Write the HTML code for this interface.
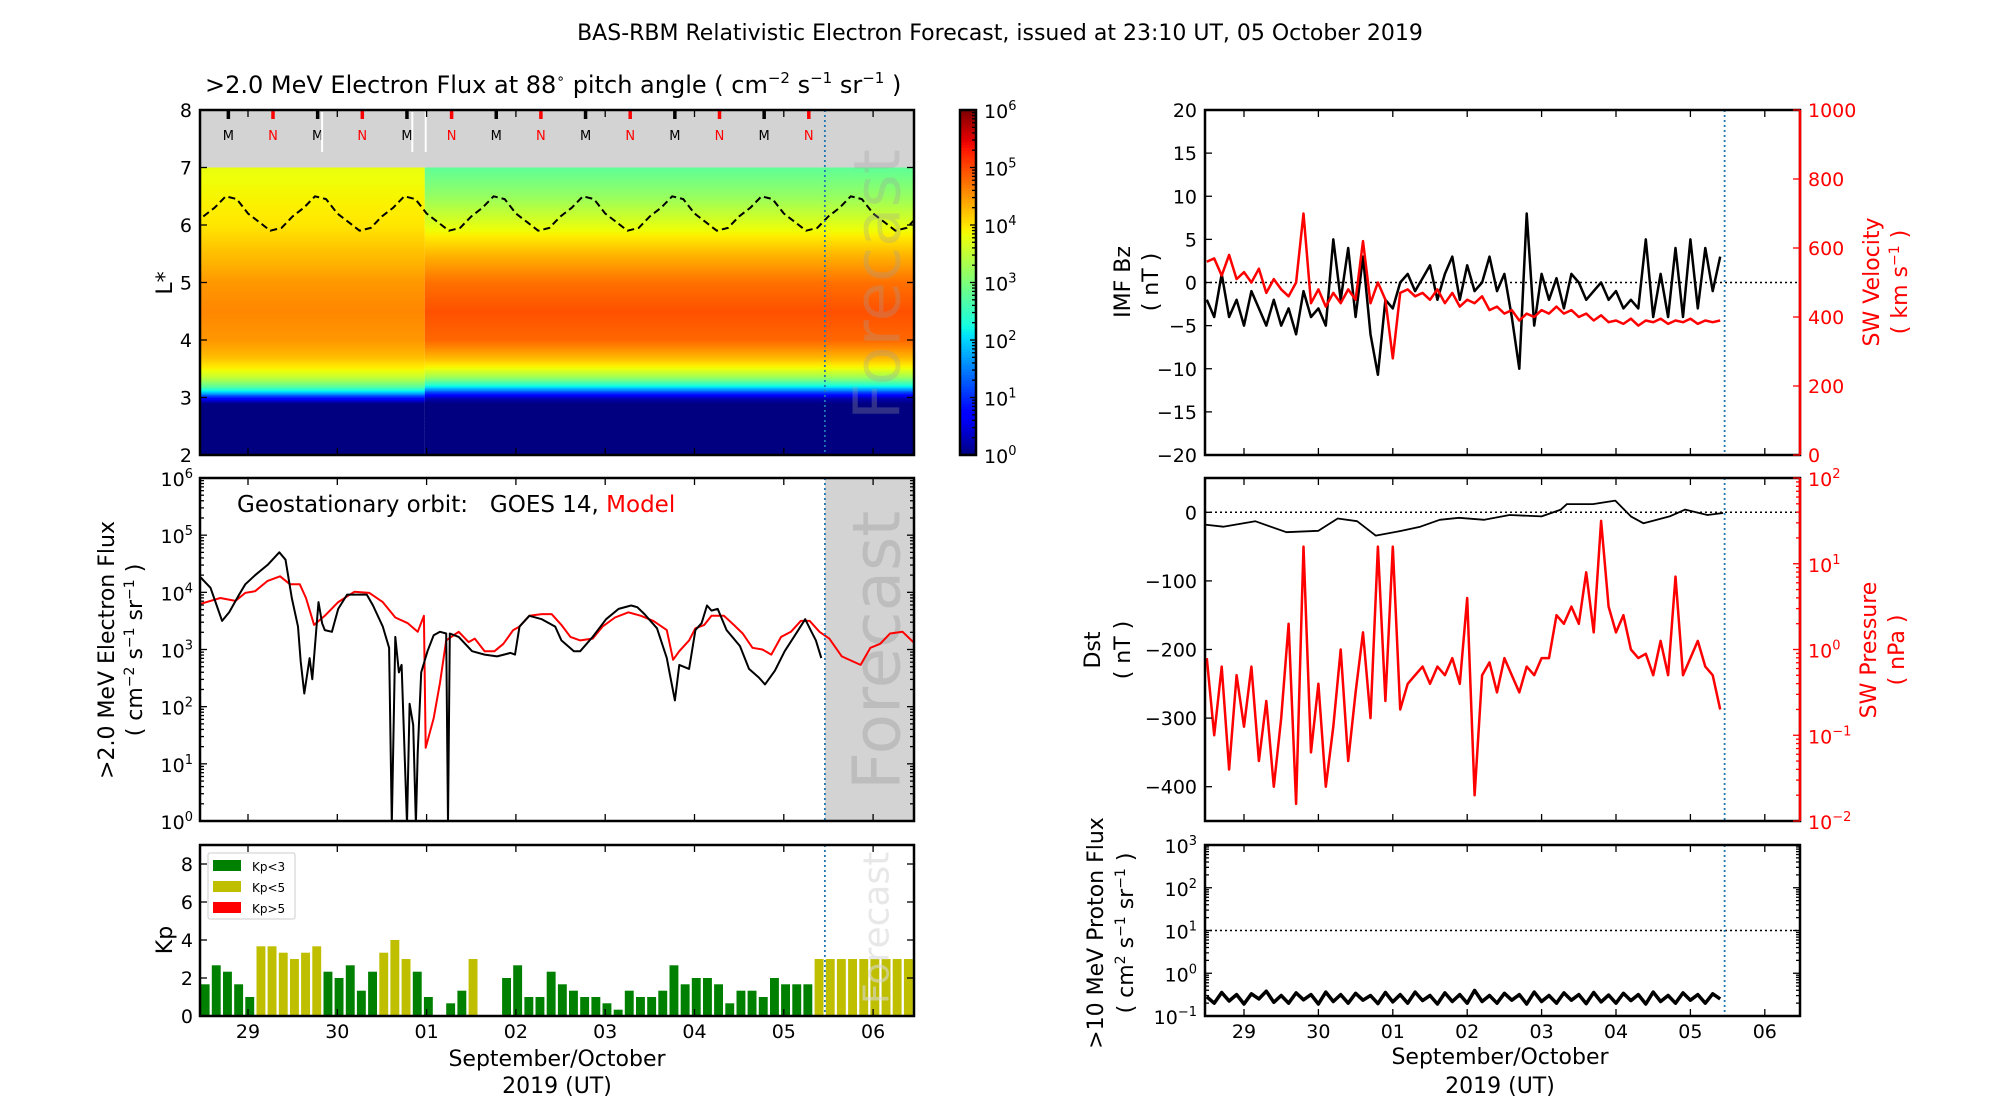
<!DOCTYPE html>
<html><head><meta charset="utf-8">
<style>
html,body{margin:0;padding:0;background:#fff;}
svg{display:block;font-family:"DejaVu Sans","Liberation Sans",sans-serif;}
</style></head>
<body>
<svg id="fig" width="2000" height="1100" viewBox="0 0 2000 1100" xmlns="http://www.w3.org/2000/svg">
<text x="1000" y="40" text-anchor="middle" font-size="22">BAS-RBM Relativistic Electron Forecast, issued at 23:10 UT, 05 October 2019</text>
<text x="205" y="93" font-size="24">&gt;2.0 MeV Electron Flux at 88<tspan dy="-10" font-size="14">∘</tspan><tspan dy="10"> pitch angle ( cm</tspan><tspan dy="-10" font-size="15">−2</tspan><tspan dy="10"> s</tspan><tspan dy="-10" font-size="15">−1</tspan><tspan dy="10"> sr</tspan><tspan dy="-10" font-size="15">−1</tspan><tspan dy="10"> )</tspan></text>
<g id="layer"></g>
</svg>
<script>
// ---------- data ----------
const dayLabels = ["29","30","01","02","03","04","05","06"];
const forecastStart = 6.46;
// heatmap L* profiles (log10 flux)
const heatL = [2, 2.9, 3.0, 3.1, 3.2, 3.35, 3.5, 3.7, 4.0, 4.5, 5.0, 5.5, 6.0, 6.5, 7.0];
const heatBefore = [0, 0, 0.8, 2.0, 2.8, 3.5, 3.9, 4.25, 4.5, 4.6, 4.5, 4.25, 4.0, 3.9, 3.8];
const heatAfter = [0, 0, 0.3, 1.2, 2.2, 3.2, 3.8, 4.3, 4.8, 4.95, 4.75, 4.3, 3.75, 3.2, 2.8];
// geostationary L* dashed line (sampled every 0.125 day from -0.5)
const geoL = [6.15,6.3,6.5,6.45,6.2,6.05,5.9,5.95,6.15,6.3,6.5,6.45,6.2,6.05,5.9,5.95,6.15,6.3,6.5,6.45,6.2,6.05,5.9,5.95,6.15,6.3,6.5,6.45,6.2,6.05,5.9,5.95,6.15,6.3,6.5,6.45,6.2,6.05,5.9,5.95,6.15,6.3,6.5,6.45,6.2,6.05,5.9,5.95,6.15,6.3,6.5,6.45,6.2,6.05,5.9,5.95,6.15,6.3,6.5,6.45,6.2,6.05,5.9,5.95,6.15];
const mDays = [-0.22,0.78,1.78,2.78,3.78,4.78,5.78];
const nDays = [0.28,1.28,2.28,3.28,4.28,5.28,6.28];
// electron flux model (red)
const modelT = [-0.53,-0.31,-0.14,-0.03,0.08,0.22,0.36,0.47,0.58,0.65,0.74,0.86,1.01,1.19,1.36,1.51,1.65,1.79,1.90,1.97,1.99,2.08,2.15,2.22,2.36,2.47,2.54,2.65,2.76,2.86,2.97,3.04,3.15,3.29,3.40,3.51,3.61,3.72,3.86,3.97,4.11,4.26,4.40,4.54,4.69,4.76,4.83,4.94,5.01,5.11,5.19,5.33,5.44,5.54,5.65,5.76,5.86,5.97,6.08,6.19,6.29,6.40,6.51,6.65,6.76,6.86,6.97,7.08,7.19,7.33,7.45];
const modelV = [3.80,3.90,3.85,3.99,4.02,4.20,4.28,4.14,4.14,3.90,3.43,3.59,3.83,4.01,3.99,3.83,3.56,3.46,3.31,3.59,1.28,1.80,2.42,3.16,3.31,3.13,3.19,2.97,2.97,3.10,3.34,3.40,3.59,3.62,3.62,3.43,3.22,3.16,3.19,3.40,3.56,3.65,3.59,3.50,3.34,2.82,2.97,3.16,3.37,3.43,3.59,3.59,3.43,3.28,3.03,3.00,2.91,3.22,3.31,3.50,3.50,3.31,3.19,2.88,2.80,2.73,3.03,3.10,3.28,3.31,3.13];
// electron flux GOES (black)
const goesT = [-0.53,-0.42,-0.35,-0.29,-0.21,-0.10,-0.03,0.08,0.22,0.35,0.42,0.49,0.56,0.59,0.63,0.69,0.72,0.79,0.83,0.86,0.94,1.01,1.11,1.22,1.33,1.40,1.51,1.58,1.61,1.65,1.69,1.72,1.78,1.81,1.85,1.88,1.90,1.94,2.01,2.08,2.15,2.22,2.24,2.26,2.36,2.51,2.65,2.79,2.94,2.99,3.04,3.15,3.29,3.44,3.51,3.65,3.72,3.86,4.01,4.15,4.29,4.36,4.44,4.58,4.69,4.72,4.78,4.83,4.94,5.01,5.08,5.14,5.19,5.26,5.36,5.51,5.61,5.72,5.79,5.90,6.01,6.15,6.24,6.31,6.36,6.42];
const goesV = [4.26,4.08,3.77,3.50,3.65,3.96,4.14,4.30,4.48,4.70,4.57,3.90,3.40,2.79,2.23,2.85,2.48,3.83,3.46,3.34,3.31,3.71,3.96,3.96,3.96,3.77,3.40,3.03,0,3.22,2.60,2.73,0,2.05,1.68,0,1.19,2.60,2.97,3.25,3.31,3.28,0,3.28,3.22,2.97,2.91,2.88,2.94,2.91,3.40,3.59,3.53,3.40,3.16,2.97,2.97,3.22,3.53,3.71,3.77,3.74,3.62,3.37,2.85,2.60,2.11,2.73,2.66,3.34,3.46,3.77,3.68,3.71,3.34,3.06,2.66,2.51,2.39,2.63,2.97,3.31,3.53,3.31,3.16,2.85];
// Kp 3-hourly from t=-0.53
const kpObs = [1.67,2.67,2.33,1.67,1,3.67,3.67,3.33,3,3.33,3.67,2.33,2,2.67,1.33,2.33,3.33,4,3,2.33,1,0,0.67,1.33,3,0,0,2,2.67,1,1,2.33,1.67,1.33,1,1,0.67,0.33,1.33,1,1,1.33,2.67,1.67,2,2,1.67,0.67,1.33,1.33,1,2,1.67,1.67,1.67];
const kpFcst = [3,3,3,3,3,3,3,3,3];
// right panels, sampled every 0.1 day from t=-0.5
const bzV = [-2,-4,1,-4,-2,-5,-1,-3,-5,-2,-5,-3,-6,-1,-4,-3,-5,5,-2,4,-4,3,-6,-10.7,-2,-3,0,1,-1,0.5,2,-2,1,3,-2,2,-1,0,3,-1,1,-4,-10,8,-5,1,-2,0.5,-3,1,0,-2,-1,0,-2,-1,-3,-2,-3,5,-4,1,-4,4,-4,5,-3,4,-1,3];
const velV = [560,570,520,580,510,530,500,540,470,510,480,460,500,700,440,480,430,470,440,480,450,620,440,500,450,280,470,480,460,470,450,480,440,470,430,450,440,460,420,430,410,420,390,410,400,420,410,430,410,420,400,410,390,405,385,390,380,395,375,390,385,395,380,390,385,395,380,390,385,390];
const presV = [-0.1,-1.0,-0.2,-1.4,-0.3,-0.9,-0.2,-1.3,-0.6,-1.6,-0.8,0.3,-1.8,1.2,-1.2,-0.4,-1.6,-0.9,0.0,-1.3,-0.5,0.2,-0.8,1.2,-0.6,1.2,-0.7,-0.4,-0.3,-0.2,-0.4,-0.2,-0.3,-0.1,-0.4,0.6,-1.7,-0.3,-0.15,-0.5,-0.1,-0.3,-0.5,-0.2,-0.3,-0.1,-0.1,0.4,0.3,0.5,0.3,0.9,0.2,1.5,0.5,0.2,0.4,0.0,-0.1,-0.05,-0.3,0.1,-0.3,0.85,-0.3,-0.1,0.1,-0.2,-0.3,-0.7];
const dstT = [-0.53,-0.28,0.15,0.57,1.00,1.26,1.52,1.77,2.12,2.37,2.63,2.89,3.23,3.57,4.00,4.26,4.34,4.69,4.99,5.20,5.37,5.72,5.93,6.23,6.44];
const dstV = [-18,-21,-13,-29,-27,-9,-13,-34,-27,-21,-11,-8,-11,-4,-6,4,12,12,17,-6,-16,-6,4,-4,-1];
const protonV = [-0.55,-0.7,-0.45,-0.65,-0.5,-0.72,-0.48,-0.6,-0.42,-0.68,-0.52,-0.7,-0.46,-0.62,-0.5,-0.72,-0.44,-0.66,-0.5,-0.7,-0.47,-0.63,-0.52,-0.71,-0.45,-0.67,-0.5,-0.7,-0.44,-0.64,-0.52,-0.72,-0.46,-0.66,-0.5,-0.7,-0.4,-0.66,-0.52,-0.7,-0.47,-0.63,-0.5,-0.72,-0.44,-0.66,-0.52,-0.7,-0.46,-0.63,-0.5,-0.71,-0.45,-0.67,-0.51,-0.7,-0.47,-0.64,-0.5,-0.72,-0.44,-0.66,-0.52,-0.7,-0.46,-0.63,-0.5,-0.7,-0.48,-0.6];
const sampleT0 = -0.5, sampleStep = 0.1;
const kpT0 = -0.53, kpStep = 0.125;

// ---------- scales ----------
const xL = t => 248 + t*89.3;
const xR = t => 1244 + t*74.4;
const yH = L => 455 - (L-2)*57.5;
const yF = v => 821 - v*(343/6);
const yK = k => 1016 - k*19;
const yB = b => 282.5 - b*8.625;
const yV = v => 455 - v*0.345;
const yD = d => 478 + (50-d)*0.686;
const yP = lp => 821 - (lp+2)*85.75;
const yPr = lv => 1016 - (lv+1)*42.75;

const NS = "http://www.w3.org/2000/svg";
const layer = document.getElementById("layer");
function el(tag, attrs, parent){
  const e = document.createElementNS(NS, tag);
  for (const k in attrs) e.setAttribute(k, attrs[k]);
  (parent||layer).appendChild(e);
  return e;
}
function pw(x, xs, ys){ return interp(xs, ys, Math.max(0,Math.min(1,x))); }
function jet(x){
  x=Math.max(0,Math.min(1,x));
  const r = pw(x,[0,0.35,0.66,0.89,1],[0,0,1,1,0.5]);
  const g = pw(x,[0,0.125,0.375,0.64,0.91,1],[0,0,1,1,0,0]);
  const b = pw(x,[0,0.11,0.34,0.65,1],[0.5,1,1,0,0]);
  const c=v=>Math.round(255*v);
  return `rgb(${c(r)},${c(g)},${c(b)})`;
}
function interp(xs, ys, x){
  for(let i=0;i<xs.length-1;i++){ if(x<=xs[i+1]){const f=(x-xs[i])/(xs[i+1]-xs[i]);return ys[i]+f*(ys[i+1]-ys[i]);} }
  return ys[ys.length-1];
}
function poly(xs, ys, attrs, name){
  const pts = xs.map((x,i)=>x.toFixed(1)+","+ys[i].toFixed(1)).join(" ");
  const p = el("polyline", Object.assign({points:pts, fill:"none","stroke-linejoin":"round"}, attrs));
  
  
  return p;
}
function txt(x,y,s,attrs,name){
  const t = el("text", Object.assign({x:x,y:y,"font-size":19}, attrs||{}));
  t.textContent = s;
  
  
  return t;
}
function powLabel(x,y,exp,anchor,color,name){
  const t = el("text",{x:x,y:y,"font-size":19,"text-anchor":anchor||"end",fill:color||"#000"});
  t.innerHTML = `10<tspan dy="-8" font-size="13">${exp}</tspan>`;
  
  
  return t;
}
function tick(x1,y1,x2,y2,color){
  const l = el("line",{x1:x1,y1:y1,x2:x2,y2:y2,stroke:color||"#000","stroke-width":1.3});
  
  
}
function frame(x,y,w,h,name){
  const r = el("rect",{x:x,y:y,width:w,height:h,fill:"none",stroke:"#000","stroke-width":2.5});
  
  
}
function vline(x,y1,y2,name){
  const l = el("line",{x1:x,y1:y1,x2:x,y2:y2,stroke:"#1f77b4","stroke-width":1.8,"stroke-dasharray":"2,3"});
  
  
}
function dayTicks(xs, y1, y2, labels, labelY){
  dayLabels.forEach((d,i)=>{
    const x = xs(i);
    tick(x,y2,x,y2-7); tick(x,y1,x,y1+7);
    if(labels) txt(x,labelY,d,{"text-anchor":"middle"},"x-tick-label-"+d);
  });
}
function logMinor(x, y0fn, d0, d1, side, color){
  for(let d=d0; d<d1; d++) for(let m=2;m<=9;m++){ const y=y0fn(d+Math.log10(m)); tick(x,y,x+side*4,y,color); }
}
function clip(id,x,y,w,h){
  const cp = el("clipPath",{id:id});
  el("rect",{x:x,y:y,width:w,height:h},cp);
}

// ================= HEATMAP =================
clip("cH",200,110,714,345);
const gH = el("g",{"clip-path":"url(#cH)"});


el("rect",{x:200,y:yH(8),width:714,height:yH(7)-yH(8),fill:"#d3d3d3"},gH);
function heatBlock(x0,x1,prof){
  for(let L=2; L<7; L+=0.025){
    const v = interp(heatL, prof, L+0.0125);
    el("rect",{x:x0,y:(yH(L+0.025)).toFixed(2),width:x1-x0,height:(57.5*0.025+0.5).toFixed(2),fill:jet(v/6)},gH);
  }
}
heatBlock(200, xL(1.98), heatBefore);
heatBlock(xL(1.98), 914, heatAfter);
poly(geoL.map((v,i)=>xL(-0.5+i*0.125)), geoL.map(v=>yH(v)), {stroke:"#000","stroke-width":2,"stroke-dasharray":"7,4","clip-path":"url(#cH)"}, "geo-lstar-line");
mDays.forEach(t=>{ el("line",{x1:xL(t),y1:110,x2:xL(t),y2:119,stroke:"#000","stroke-width":3.5}); txt(xL(t),140,"M",{"font-size":13,"text-anchor":"middle"},"midnight-marker"); });
nDays.forEach(t=>{ el("line",{x1:xL(t),y1:110,x2:xL(t),y2:119,stroke:"#f00","stroke-width":3.5}); txt(xL(t),140,"N",{"font-size":13,"text-anchor":"middle",fill:"#f00"},"noon-marker"); });
[0.83,1.84,1.99].forEach(t=>el("line",{x1:xL(t),y1:112,x2:xL(t),y2:152,stroke:"#fff","stroke-width":2}));
vline(xL(forecastStart),110,455,"forecast-line-heatmap");
txt(0,0,"Forecast",{"font-size":64,fill:"#a0a0a0","fill-opacity":0.3,transform:`translate(${xL(7.04)+23},420) rotate(-90)`},"forecast-watermark-heatmap");
frame(200,110,714,345,"heatmap-frame");
for(let L=2;L<=8;L++){ tick(200,yH(L),207,yH(L)); tick(914,yH(L),907,yH(L)); txt(192,yH(L)+7,String(L),{"text-anchor":"end"},"lstar-tick-label"); }
dayTicks(xL,110,455,false);
txt(0,0,"L*",{"font-size":22,"text-anchor":"middle",transform:"translate(172,283) rotate(-90)"},"lstar-axis-title");
for(let i=0;i<120;i++){ el("rect",{x:960,y:(455-(i+1)*345/120).toFixed(2),width:16,height:(345/120+0.5).toFixed(2),fill:jet((i+0.5)/120)}); }
frame(960,110,16,345,"colorbar");
for(let d=0;d<=6;d++){ const y=455-d*57.5; tick(976,y,970,y); powLabel(984,y+8,d,"start","#000","colorbar-label"); }
for(let d=0;d<6;d++) for(let m=2;m<=9;m++){const y=455-(d+Math.log10(m))*57.5; tick(976,y,972,y);}

// ================= ELECTRON FLUX =================
clip("cF",200,478,714,343);
{const r=el("rect",{x:xL(forecastStart),y:478,width:914-xL(forecastStart),height:343,fill:"#d3d3d3"});  }
txt(0,0,"Forecast",{"font-size":66,fill:"#bdbdbd",transform:`translate(${xL(7.04)+23},790) rotate(-90)`},"forecast-watermark-flux");
const gF = el("g",{"clip-path":"url(#cF)"});
gF.appendChild(poly(modelT.map(xL), modelV.map(yF), {stroke:"#f00","stroke-width":2}, "model-flux-line"));
gF.appendChild(poly(goesT.map(xL), goesV.map(v=>yF(v)+(v===0?3:0)), {stroke:"#000","stroke-width":2}, "goes-flux-line"));
vline(xL(forecastStart),478,821,"forecast-line-flux");
frame(200,478,714,343,"flux-frame");
for(let d=0;d<=6;d++){ tick(200,yF(d),207,yF(d)); tick(914,yF(d),907,yF(d)); powLabel(193,yF(d)+8,d,"end","#000","flux-tick-label"); }
logMinor(200,yF,0,6,1); logMinor(914,yF,0,6,-1);
dayTicks(xL,478,821,false);
{const t=el("text",{x:237,y:512,"font-size":23}); t.innerHTML='Geostationary orbit:&#160;&#160; GOES 14, <tspan fill="#f00">Model</tspan>';  }
txt(0,0,">2.0 MeV Electron Flux",{"font-size":22,"text-anchor":"middle",transform:"translate(114,650) rotate(-90)"},"flux-axis-title");
{const t=el("text",{"font-size":22,"text-anchor":"middle",transform:"translate(142,650) rotate(-90)"}); t.innerHTML='( cm<tspan dy="-8" font-size="14">−2</tspan><tspan dy="8"> s</tspan><tspan dy="-8" font-size="14">−1</tspan><tspan dy="8"> sr</tspan><tspan dy="-8" font-size="14">−1</tspan><tspan dy="8"> )</tspan>';  }

// ================= KP =================
const kpColor = k => k<3 ? "#008000" : (k<5 ? "#bfbf00" : "#ff0000");
const allKp = kpObs.concat(kpFcst);
allKp.forEach((k,i)=>{
  const t0 = kpT0 + i*kpStep;
  const b = el("rect",{x:xL(t0).toFixed(1),y:yK(k).toFixed(1),width:(kpStep*0.8*89.3).toFixed(1),height:(yK(0)-yK(k)).toFixed(1),fill:kpColor(k)});
  
  
});
txt(0,0,"Forecast",{"font-size":36,fill:"#d8d8d8","fill-opacity":0.6,transform:`translate(${xL(7.04)+12},1004) rotate(-90)`},"forecast-watermark-kp");
vline(xL(forecastStart),845,1016,"forecast-line-kp");
frame(200,845,714,171,"kp-frame");
for(let k=0;k<=8;k+=2){ tick(200,yK(k),207,yK(k)); tick(914,yK(k),907,yK(k)); txt(193,yK(k)+7,String(k),{"text-anchor":"end"},"kp-tick-label"); }
dayTicks(xL,845,1016,true,1038);
txt(0,0,"Kp",{"font-size":22,"text-anchor":"middle",transform:"translate(172,940) rotate(-90)"},"kp-axis-title");
{const g=el("g",{});  
el("rect",{x:208,y:853,width:87,height:66,fill:"#fff",stroke:"#ccc","stroke-width":1,rx:2},g);
[["Kp<3","#008000"],["Kp<5","#bfbf00"],["Kp>5","#ff0000"]].forEach((e,i)=>{
  el("rect",{x:213,y:860+i*21,width:28,height:11,fill:e[1]},g);
  const t=el("text",{x:252,y:871+i*21,"font-size":12},g); t.textContent=e[0];
   
});}
txt(557,1066,"September/October",{"font-size":22,"text-anchor":"middle"},"x-axis-title-left");
txt(557,1093,"2019 (UT)",{"font-size":22,"text-anchor":"middle"},"x-axis-subtitle-left");

// ================= IMF Bz / velocity =================
clip("cR1",1205,110,595,345);
const sT = bzV.map((v,i)=>sampleT0+i*sampleStep);
el("line",{x1:1205,y1:yB(0),x2:1800,y2:yB(0),stroke:"#000","stroke-width":1.5,"stroke-dasharray":"2,3"});
const gR1 = el("g",{"clip-path":"url(#cR1)"});
gR1.appendChild(poly(sT.map(xR), bzV.map(yB), {stroke:"#000","stroke-width":2.5}, "imf-bz-line"));
gR1.appendChild(poly(velV.map((v,i)=>xR(sampleT0+i*sampleStep)), velV.map(yV), {stroke:"#f00","stroke-width":2.5}, "sw-velocity-line"));
vline(xR(forecastStart),110,455,"forecast-line-imf");
frame(1205,110,595,345,"imf-frame");
el("line",{x1:1800,y1:110,x2:1800,y2:455,stroke:"#f00","stroke-width":2.5});
for(let b=-20;b<=20;b+=5){ tick(1205,yB(b),1212,yB(b)); txt(1197,yB(b)+7,String(b).replace("-","−"),{"text-anchor":"end"},"bz-tick-label"); }
for(let v=0;v<=1000;v+=200){ tick(1800,yV(v),1793,yV(v),"#f00"); txt(1808,yV(v)+7,String(v),{fill:"#f00"},"velocity-tick-label"); }
dayTicks(xR,110,455,false);
txt(0,0,"IMF Bz",{"font-size":22,"text-anchor":"middle",transform:"translate(1130,282) rotate(-90)"},"bz-axis-title");
txt(0,0,"( nT )",{"font-size":22,"text-anchor":"middle",transform:"translate(1158,282) rotate(-90)"},"bz-axis-units");
txt(0,0,"SW Velocity",{"font-size":22,"fill":"#f00","text-anchor":"middle",transform:"translate(1879,282) rotate(-90)"},"velocity-axis-title");
{const t=el("text",{"font-size":22,fill:"#f00","text-anchor":"middle",transform:"translate(1907,282) rotate(-90)"}); t.innerHTML='( km s<tspan dy="-8" font-size="14">−1</tspan><tspan dy="8"> )</tspan>';  }

// ================= Dst / pressure =================
clip("cR2",1205,478,595,343);
const gR2 = el("g",{"clip-path":"url(#cR2)"});
gR2.appendChild(poly(presV.map((v,i)=>xR(sampleT0+i*sampleStep)), presV.map(yP), {stroke:"#f00","stroke-width":2.5}, "sw-pressure-line"));
el("line",{x1:1205,y1:yD(0),x2:1800,y2:yD(0),stroke:"#000","stroke-width":1.5,"stroke-dasharray":"2,3"},gR2);
gR2.appendChild(poly(dstT.map(xR), dstV.map(yD), {stroke:"#000","stroke-width":1.8}, "dst-line"));
vline(xR(forecastStart),478,821,"forecast-line-dst");
frame(1205,478,595,343,"dst-frame");
el("line",{x1:1800,y1:478,x2:1800,y2:821,stroke:"#f00","stroke-width":2.5});
for(let d=0;d>=-400;d-=100){ tick(1205,yD(d),1212,yD(d)); txt(1197,yD(d)+7,String(d).replace("-","−"),{"text-anchor":"end"},"dst-tick-label"); }
for(let e=-2;e<=2;e++){ tick(1800,yP(e),1793,yP(e),"#f00"); powLabel(1808,yP(e)+8,String(e).replace("-","−"),"start","#f00","pressure-tick-label"); }
logMinor(1800,yP,-2,2,-1,"#f00");
dayTicks(xR,478,821,false);
txt(0,0,"Dst",{"font-size":22,"text-anchor":"middle",transform:"translate(1100,650) rotate(-90)"},"dst-axis-title");
txt(0,0,"( nT )",{"font-size":22,"text-anchor":"middle",transform:"translate(1130,650) rotate(-90)"},"dst-axis-units");
txt(0,0,"SW Pressure",{"font-size":22,"fill":"#f00","text-anchor":"middle",transform:"translate(1876,650) rotate(-90)"},"pressure-axis-title");
txt(0,0,"( nPa )",{"font-size":22,"fill":"#f00","text-anchor":"middle",transform:"translate(1904,650) rotate(-90)"},"pressure-axis-units");

// ================= Proton =================
clip("cR3",1205,845,595,171);
el("line",{x1:1205,y1:yPr(1),x2:1800,y2:yPr(1),stroke:"#000","stroke-width":1.5,"stroke-dasharray":"2,3"});
const gR3 = el("g",{"clip-path":"url(#cR3)"});
gR3.appendChild(poly(protonV.map((v,i)=>xR(sampleT0+i*sampleStep)), protonV.map(yPr), {stroke:"#000","stroke-width":3.5}, "proton-flux-line"));
vline(xR(forecastStart),845,1016,"forecast-line-proton");
frame(1205,845,595,171,"proton-frame");
for(let e=-1;e<=3;e++){ tick(1205,yPr(e),1212,yPr(e)); tick(1800,yPr(e),1793,yPr(e)); powLabel(1197,yPr(e)+8,String(e).replace("-","−"),"end","#000","proton-tick-label"); }
logMinor(1205,yPr,-1,3,1); logMinor(1800,yPr,-1,3,-1);
dayTicks(xR,845,1016,true,1038);
txt(0,0,">10 MeV Proton Flux",{"font-size":22,"text-anchor":"middle",transform:"translate(1103,933) rotate(-90)"},"proton-axis-title");
{const t=el("text",{"font-size":22,"text-anchor":"middle",transform:"translate(1133,933) rotate(-90)"}); t.innerHTML='( cm<tspan dy="-8" font-size="14">2</tspan><tspan dy="8"> s</tspan><tspan dy="-8" font-size="14">−1</tspan><tspan dy="8"> sr</tspan><tspan dy="-8" font-size="14">−1</tspan><tspan dy="8"> )</tspan>';  }
txt(1500,1064,"September/October",{"font-size":22,"text-anchor":"middle"},"x-axis-title-right");
txt(1500,1093,"2019 (UT)",{"font-size":22,"text-anchor":"middle"},"x-axis-subtitle-right");
</script>
</body></html>
